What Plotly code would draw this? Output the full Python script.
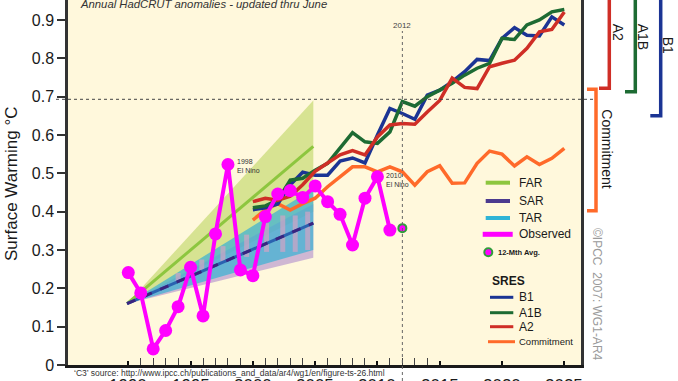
import plotly.graph_objects as go

# ---------------- data ----------------
OBS_YEARS = list(range(1990, 2012))
OBS_VALUES = [0.241, 0.188, 0.042, 0.090, 0.152, 0.255, 0.128, 0.342, 0.523, 0.248,
              0.233, 0.387, 0.446, 0.455, 0.437, 0.467, 0.426, 0.393, 0.313, 0.435,
              0.491, 0.352]

AVG12_YEAR = [2012]
AVG12_VALUE = [0.357]

PROJ_YEARS = list(range(2000, 2026))
B1 = [0.405, 0.410, 0.420, 0.470, 0.503, 0.495, 0.495, 0.532, 0.540, 0.527,
      0.600, 0.669, 0.656, 0.641, 0.704, 0.717, 0.739, 0.765, 0.797, 0.794,
      0.852, 0.880, 0.860, 0.858, 0.908, 0.887]
A1B = [0.410, 0.415, 0.430, 0.482, 0.487, 0.508, 0.526, 0.565, 0.606, 0.582,
       0.578, 0.608, 0.687, 0.675, 0.700, 0.717, 0.735, 0.756, 0.774, 0.787,
       0.852, 0.849, 0.887, 0.900, 0.921, 0.927]
A2 = [0.426, 0.435, 0.430, 0.440, 0.470, 0.505, 0.527, 0.548, 0.559, 0.548,
      0.595, 0.626, 0.630, 0.628, 0.660, 0.690, 0.748, 0.724, 0.721, 0.778,
      0.787, 0.795, 0.826, 0.869, 0.875, 0.921]
COMMITMENT = [0.378, 0.405, 0.421, 0.404, 0.421, 0.435, 0.465, 0.490, 0.517, 0.517,
              0.504, 0.517, 0.504, 0.469, 0.504, 0.520, 0.474, 0.475, 0.526, 0.558,
              0.550, 0.519, 0.543, 0.523, 0.539, 0.565]

BAND_X = [1989.9, 2004.85]
FAR_LOW, FAR_MID, FAR_HIGH = [0.16, 0.40], [0.16, 0.57], [0.16, 0.69]
SAR_LOW, SAR_MID, SAR_HIGH = [0.16, 0.28], [0.16, 0.37], [0.16, 0.42]
TAR_LOW, TAR_MID, TAR_HIGH = [0.16, 0.30], [0.16, 0.37], [0.16, 0.46]

BAR_YEARS = [1994.0, 1995.9, 1997.6, 1999.5, 2001.1, 2002.4, 2003.4, 2004.4]
BAR_LOW = [0.215, 0.245, 0.270, 0.282, 0.295, 0.295, 0.295, 0.300]
BAR_HIGH = [0.240, 0.275, 0.310, 0.340, 0.370, 0.390, 0.390, 0.400]

X_TICK_YEARS = [1985, 1990, 1995, 2000, 2005, 2010, 2015, 2020, 2025]
X_TICK_LABELS = ["1985", "1990", "1995", "2000", "2005", "2010", "2015", "2020", "2025"]
X_MINOR_YEARS = [y for y in range(1991, 2015) if y % 5 != 0]
Y_TICK_VALUES = [0, 0.1, 0.2, 0.3, 0.4, 0.5, 0.6, 0.7, 0.8, 0.9]
Y_TICK_LABELS = ["0", "0.1", "0.2", "0.3", "0.4", "0.5", "0.6", "0.7", "0.8", "0.9"]

REF_LEVEL = 0.693
REF_YEAR = 2012

# ---------------- layout geometry ----------------
W, H = 678, 381
ML, MR, MT, MB = 68, 97, 0, 16
PW, PH = W - ML - MR, H - MT - MB


def px(x):
    return (x - ML) / PW


def py(y):
    return (PH + MT - y) / PH


FONT = "Liberation Sans, Arial, sans-serif"
MAGENTA = "#FF00FF"
FAR_C, SAR_C, TAR_C = "#8DC63F", "#4B3A8F", "#2FB4D6"
B1_C, A1B_C, A2_C, COM_C = "#1B3494", "#1D6B33", "#CF2E26", "#FF6A2A"

fig = go.Figure()


def band(low, high, color):
    fig.add_trace(go.Scatter(x=BAND_X + BAND_X[::-1], y=high + low[::-1], mode="lines",
                             fill="toself", fillcolor=color, line=dict(width=0),
                             hoverinfo="skip"))


band(FAR_LOW, FAR_HIGH, "rgba(176,206,72,0.50)")
band(SAR_LOW, SAR_HIGH, "rgba(175,140,205,0.60)")
band(TAR_LOW, TAR_HIGH, "rgba(60,178,210,0.72)")

# pink bars
bx, by = [], []
for yr, lo, hi in zip(BAR_YEARS, BAR_LOW, BAR_HIGH):
    bx += [yr, yr, None]
    by += [lo, hi, None]
fig.add_trace(go.Scatter(x=bx, y=by, mode="lines",
                         line=dict(color="rgba(230,160,195,0.6)", width=5), hoverinfo="skip"))

fig.add_trace(go.Scatter(x=BAND_X, y=FAR_MID, mode="lines", line=dict(color=FAR_C, width=3)))
fig.add_trace(go.Scatter(x=BAND_X, y=TAR_MID, mode="lines", line=dict(color="#2A62B0", width=3)))
fig.add_trace(go.Scatter(x=BAND_X, y=SAR_MID, mode="lines",
                         line=dict(color="#3A2480", width=3, dash="dash")))

for vals, col in [(COMMITMENT, COM_C), (B1, B1_C), (A1B, A1B_C), (A2, A2_C)]:
    fig.add_trace(go.Scatter(x=PROJ_YEARS, y=vals, mode="lines",
                             line=dict(color=col, width=3.5)))

fig.add_trace(go.Scatter(x=OBS_YEARS, y=OBS_VALUES, mode="lines+markers",
                         line=dict(color=MAGENTA, width=4),
                         marker=dict(color=MAGENTA, size=13)))
fig.add_trace(go.Scatter(x=AVG12_YEAR, y=AVG12_VALUE, mode="markers",
                         marker=dict(color=MAGENTA, size=8,
                                     line=dict(color="#2E9E3A", width=2))))

shapes = []
annotations = []


def note(text, x, y, size, color="#1a1a1a", xref="paper", yref="paper",
         xanchor="center", yanchor="middle", angle=0, align="center"):
    annotations.append(dict(text=text, x=x, y=y, xref=xref, yref=yref,
                            xanchor=xanchor, yanchor=yanchor, textangle=angle,
                            align=align, showarrow=False,
                            font=dict(family=FONT, size=size, color=color)))


# reference lines
shapes.append(dict(type="line", xref="paper", yref="y", x0=px(56), x1=px(595),
                   y0=REF_LEVEL, y1=REF_LEVEL, line=dict(color="#444", width=1, dash="dot")))
shapes.append(dict(type="line", xref="x", yref="paper", x0=REF_YEAR, x1=REF_YEAR,
                   y0=py(381), y1=py(31), line=dict(color="#666", width=1, dash="dot")))
note("2012", REF_YEAR, py(25), 8, "#444", xref="x")

# x tick labels (cut by the bottom edge like the reference)
for yr, lab in zip(X_TICK_YEARS, X_TICK_LABELS):
    note(lab, yr, py(374), 17, xref="x", yanchor="top")

note("\u2018C3\u2019 source: http://www.ipcc.ch/publications_and_data/ar4/wg1/en/figure-ts-26.html",
     px(72), py(373), 8.5, "#333", xanchor="left")

note("<i>Annual HadCRUT anomalies - updated thru June</i>", px(203.5), py(4), 11.3, "#333")

note("Surface Warming \u00b0C", px(12), py(184), 17, angle=-90)

note("1998<br>El Nino", 1998.55, 0.52, 7, "#333", xref="x", yref="y",
     xanchor="left", align="left")
note("2010<br>El Nino", 2010.5, 0.483, 7, "#333", xref="x", yref="y",
     xanchor="left", align="left")

# legend (drawn by hand)
leg = [("FAR", FAR_C, 182.7, 4), ("SAR", SAR_C, 201, 4), ("TAR", TAR_C, 218, 4),
       ("Observed", MAGENTA, 234.3, 5)]
for name, col, yy, wd in leg:
    x0, x1 = (482.7, 512.7) if name == "Observed" else (485.7, 510)
    shapes.append(dict(type="line", xref="paper", yref="paper", x0=px(x0), x1=px(x1),
                       y0=py(yy), y1=py(yy), line=dict(color=col, width=wd)))
    note(name, px(517), py(yy), 12, xanchor="left")
shapes.append(dict(type="circle", xref="paper", yref="paper", x0=px(484.3), x1=px(492.3),
                   y0=py(256.3), y1=py(248.3), fillcolor=MAGENTA,
                   line=dict(color="#2E9E3A", width=2)))
note("<b>12-Mth Avg.</b>", px(495.5), py(252.3), 7.5, xanchor="left")
note("<b>SRES</b>", px(490), py(281), 12, xanchor="left")
sres = [("B1", B1_C, 297.3, 12), ("A1B", A1B_C, 312.7, 12), ("A2", A2_C, 326.7, 12),
        ("Commitment", COM_C, 341.7, 9.5)]
for name, col, yy, fs in sres:
    x0, x1 = (488, 515) if name == "Commitment" else (490, 513.3)
    shapes.append(dict(type="line", xref="paper", yref="paper", x0=px(x0), x1=px(x1),
                       y0=py(yy), y1=py(yy), line=dict(color=col, width=3)))
    note(name, px(516.5), py(yy), fs, xanchor="left")


# scenario brackets at the right
def bracket(pts, col):
    path = "M " + " L ".join(f"{px(a):.5f} {py(b):.5f}" for a, b in pts)
    shapes.append(dict(type="path", xref="paper", yref="paper", path=path,
                       line=dict(color=col, width=3.5)))


bracket([(599, 88.3), (609.3, 88.3), (609.3, -5)], A2_C)
bracket([(625, 91.7), (635.3, 91.7), (635.3, -5)], A1B_C)
bracket([(650.3, 115.7), (660.7, 115.7), (660.7, -5)], B1_C)
bracket([(587, 89.3), (596, 89.3), (596, 210.7), (587, 210.7)], COM_C)

for txt, xx, yy in [("A2", 618.3, 32), ("A1B", 643.3, 37), ("B1", 668.3, 45),
                    ("Commitment", 606.7, 149)]:
    note(txt, px(xx), py(yy), 14, angle=90)
note("\u00a9IPCC  2007: WG1-AR4", px(597), py(294), 12, "#9a9a9a", angle=90)

fig.update_layout(
    width=W, height=H, margin=dict(l=ML, r=MR, t=MT, b=MB),
    paper_bgcolor="white", plot_bgcolor="#FFF8DC", showlegend=False,
    shapes=shapes, annotations=annotations,
    xaxis=dict(range=[1985.16, 2026.34], showgrid=False, zeroline=False,
               showline=True, linecolor="#1a1a1a", linewidth=2.5,
               ticks="inside", tickvals=X_TICK_YEARS[1:], ticklen=4, tickwidth=2,
               tickcolor="#111", showticklabels=False,
               minor=dict(tickvals=X_MINOR_YEARS, ticks="inside", ticklen=7,
                          tickwidth=1, tickcolor="#444")),
    yaxis=dict(range=[0, 0.952], showgrid=False, zeroline=False,
               showline=True, linecolor="#333", linewidth=2.5, mirror=True,
               ticks="outside", tickvals=Y_TICK_VALUES, ticktext=Y_TICK_LABELS,
               ticklen=8, tickwidth=2, tickcolor="#333",
               tickfont=dict(family=FONT, size=16, color="#1a1a1a")),
)

fig.write_html("out.html",
               config={"displayModeBar": False},
               post_script="document.body.style.margin='0px';"
                           "document.body.style.overflow='hidden';")
